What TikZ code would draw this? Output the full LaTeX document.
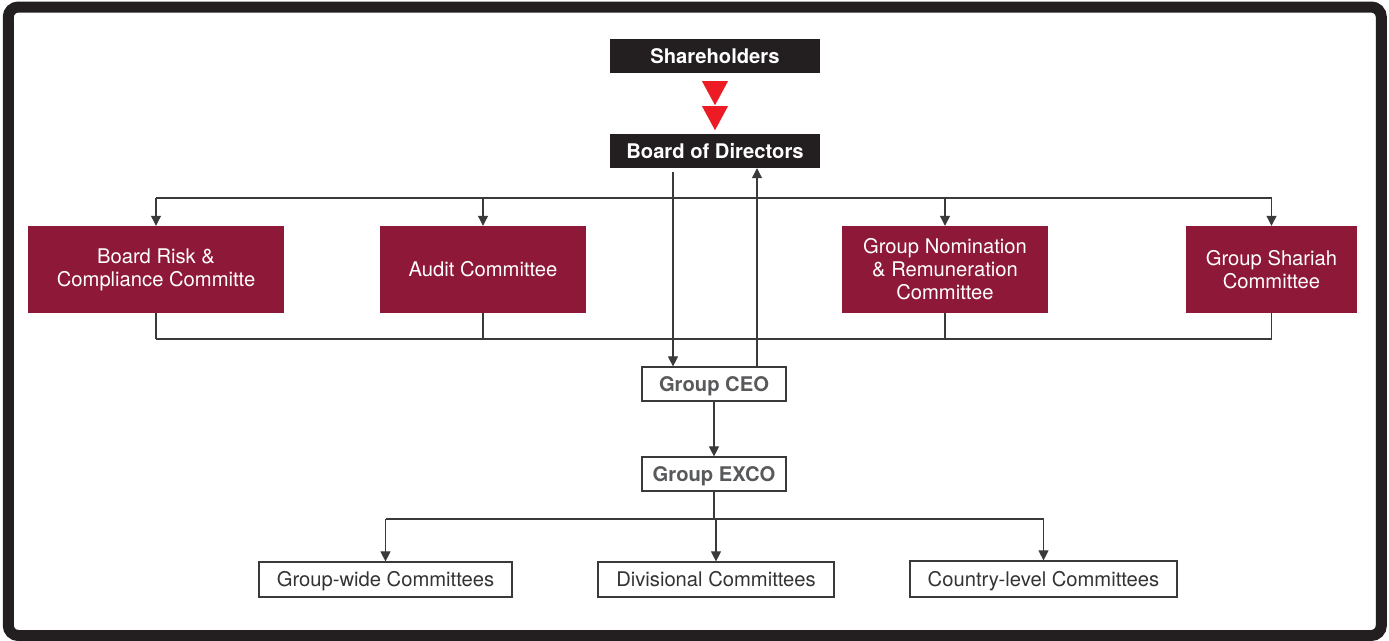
\documentclass[tikz,border=0pt]{standalone}
\usepackage{fontspec}
\setmainfont{TeX Gyre Heros}
\usetikzlibrary{arrows.meta,calc}
\definecolor{maroonc}{HTML}{8E1838}
\definecolor{darkc}{HTML}{231F20}
\definecolor{redc}{HTML}{ED1C24}
\definecolor{greyc}{HTML}{58595B}
\definecolor{linec}{HTML}{3A3A3A}
\definecolor{txtc}{HTML}{333333}
\begin{document}
\begin{tikzpicture}[x=1pt,y=-1pt,
  blk/.style={fill=darkc, text=white, inner sep=0pt, minimum width=210pt, minimum height=34pt,
    text height=14pt, text depth=0pt, font=\fontsize{20.2}{23}\selectfont\bfseries},
  com/.style={fill=maroonc, text=white, inner sep=0pt, minimum height=87pt, align=center,
    font=\fontsize{20.2}{23}\selectfont},
  gbox/.style={draw=linec, line width=1.2pt, fill=white, text=greyc, inner sep=0pt,
    minimum width=144pt, minimum height=34pt, text height=14pt, text depth=0pt,
    font=\fontsize{20.2}{23}\selectfont\bfseries},
  wbox/.style={draw=linec, line width=1.2pt, fill=white, text=txtc, inner sep=0pt,
    minimum height=35pt, text height=14pt, text depth=0pt, font=\fontsize{20.2}{23}\selectfont},
  conn/.style={draw=linec, line width=1.1pt},
  arr/.style={conn, -{Triangle[length=10pt,width=10pt]}}
]
\useasboundingbox (0,0) rectangle (1389,640);
\fill[white] (0,0) rectangle (1389,640);
\draw[darkc, line width=11pt, rounded corners=10pt] (8.3,7) rectangle (1381.3,635.5);

% top
\node[blk] (sh) at (715,56) {Shareholders};
\node[blk] (bod) at (715,151) {Board of Directors};
\fill[redc] ($(sh.south)+(-13,8)$) -- ($(sh.south)+(13,8)$) -- ($(sh.south)+(0,32)$) -- cycle;
\fill[redc] ($(sh.south)+(-13,33)$) -- ($(sh.south)+(13,33)$) -- ($(sh.south)+(0,57)$) -- cycle;

% committees
\node[com, minimum width=256pt] (brc) at (156,269.5) {Board Risk \&\\Compliance Committe};
\node[com, minimum width=206pt] (aud) at (483,269.5) {Audit Committee};
\node[com, minimum width=206pt] (gnr) at (945,269.5) {Group Nomination\\\& Remuneration\\Committee};
\node[com, minimum width=171pt] (gsc) at (1271.5,269.5) {Group Shariah\\Committee};

% CEO / EXCO
\node[gbox] (ceo) at (714,384) {Group CEO};
\node[gbox] (exco) at (714,474) {Group EXCO};

% bottom committees
\node[wbox, minimum width=253pt] (gw) at (385.5,579.5) {Group-wide Committees};
\node[wbox, minimum width=236pt] (div) at (716,579.5) {Divisional Committees};
\node[wbox, minimum width=267pt, minimum height=36pt] (cl) at (1043.5,579) {Country-level Committees};

% helper coordinates
\coordinate (busA) at (0,198);
\coordinate (busB) at (0,339);
\coordinate (busC) at (0,519);
\coordinate (dl) at (673,0);
\coordinate (ul) at (757,0);

% top bus
\draw[conn] (brc.north |- busA) -- (gsc.north |- busA);
\foreach \n in {brc,aud,gnr,gsc} \draw[arr] (\n.north |- busA) -- (\n.north);
% bottom bus
\draw[conn] (brc.south |- busB) -- (gsc.south |- busB);
\foreach \n in {brc,aud,gnr,gsc} \draw[conn] (\n.south) -- (\n.south |- busB);

% board <-> CEO
\draw[arr, shorten <=4pt] (bod.south -| dl) -- (ceo.north -| dl);
\draw[arr] (ceo.north -| ul) -- (bod.south -| ul);

% CEO -> EXCO
\draw[arr] (ceo.south) -- (exco.north);

% EXCO -> committees
\draw[conn] (exco.south) -- (exco.south |- busC);
\draw[conn] (gw.north |- busC) -- (cl.north |- busC);
\foreach \n in {gw,div,cl} \draw[arr] (\n.north |- busC) -- (\n.north);
\end{tikzpicture}
\end{document}
